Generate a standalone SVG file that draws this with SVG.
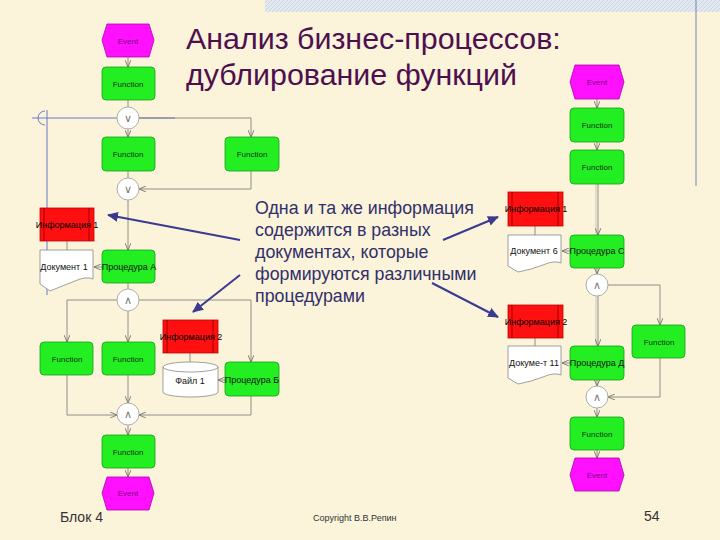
<svg xmlns="http://www.w3.org/2000/svg" width="720" height="540" viewBox="0 0 720 540">
<defs>
<marker id="ah" markerWidth="8" markerHeight="6" refX="7" refY="3" orient="auto" markerUnits="userSpaceOnUse"><path d="M0,0 L7,3 L0,6" fill="none" stroke="#666" stroke-width="0.8"/></marker>
<marker id="bh" markerWidth="12" markerHeight="10" refX="10" refY="5" orient="auto" markerUnits="userSpaceOnUse"><path d="M0,0 L11,5 L0,10 Z" fill="#3a3a90"/></marker>
<pattern id="hatch" width="4" height="4" patternUnits="userSpaceOnUse"><rect width="4" height="4" fill="#e4eaf0"/><path d="M0,4 L4,0" stroke="#c8d4e2" stroke-width="1"/></pattern>
</defs>
<style>
.ev{fill:#ff10ff;stroke:#b000b0;stroke-width:0.8}
.fn{fill:#22ee22;stroke:#18a018;stroke-width:0.8}
.inf{fill:#ff1010;stroke:#c00000;stroke-width:0.8}
.doc{fill:#ffffff;stroke:#888;stroke-width:0.8}
.op{fill:#ffffff;stroke:#999;stroke-width:0.8}
.c{fill:none;stroke:#777;stroke-width:0.8}
.ca{fill:none;stroke:#777;stroke-width:0.8;marker-end:url(#ah)}
.dbl{fill:none;stroke:#bbb;stroke-width:0.8}
.t{font-family:"Liberation Sans",Arial,sans-serif;font-size:8px;text-anchor:middle;dominant-baseline:central}
.te{fill:#7a0a7a}
.tf{fill:#153015}
.tb{fill:#000;font-size:9px}
.ts{fill:#111;font-size:9px}
.opt{font-family:"DejaVu Sans",sans-serif;font-size:11px;fill:#777;text-anchor:middle;dominant-baseline:central}
.title{font-family:"Liberation Sans",Arial,sans-serif;font-size:30.4px;fill:#4e0f4e}
.body{font-family:"Liberation Sans",Arial,sans-serif;font-size:17.8px;fill:#30306a}
.ba{fill:none;stroke:#3a3a90;stroke-width:2;marker-end:url(#bh)}
.foot{font-family:"Liberation Sans",Arial,sans-serif;fill:#333}
</style>
<rect width="720" height="540" fill="#fbf3da"/>
<rect x="265" y="0" width="455" height="12" fill="url(#hatch)"/>
<line x1="696" y1="0" x2="696" y2="186" stroke="#7383b3" stroke-width="1"/>
<g id="blue-guides">
<line x1="32" y1="118" x2="175" y2="118" stroke="#6a78c8" stroke-width="1"/>
<line x1="47" y1="110" x2="47" y2="295" stroke="#6a78c8" stroke-width="1"/>
<path d="M45,111 A7,7 0 0 0 45,125" fill="none" stroke="#6a78c8" stroke-width="1"/>
</g>
<g id="title">
<text class="title" x="186" y="49">Анализ бизнес-процессов:</text>
<text class="title" x="186" y="85">дублирование функций</text>
</g>
<g id="connectors">
<line class="ca" x1="128" y1="57" x2="128" y2="67"/>
<line class="c" x1="128" y1="100" x2="128" y2="107"/>
<line class="ca" x1="128" y1="129" x2="128" y2="137"/>
<polyline class="ca" points="139,118 251,118 251,137"/>
<line class="c" x1="128" y1="171" x2="128" y2="178"/>
<polyline class="ca" points="251,171 251,189 139,189"/>
<line class="ca" x1="128" y1="200" x2="128" y2="250"/>
<line class="c" x1="67" y1="241" x2="67" y2="250"/>
<line class="ca" x1="102" y1="267" x2="94" y2="267"/>
<line class="c" x1="128" y1="283" x2="128" y2="289"/>
<polyline class="ca" points="117,300 67,300 67,342"/>
<line class="ca" x1="128" y1="311" x2="128" y2="342"/>
<polyline class="ca" points="139,300 251,300 251,362"/>
<line class="c" x1="190" y1="353" x2="190" y2="362"/>
<line class="ca" x1="225" y1="380" x2="218" y2="380"/>
<polyline class="ca" points="67,375 67,415 117,415"/>
<line class="ca" x1="128" y1="375" x2="128" y2="403"/>
<polyline class="ca" points="251,396 251,415 139,415"/>
<line class="ca" x1="128" y1="425" x2="128" y2="435"/>
<line class="ca" x1="128" y1="468" x2="128" y2="477"/>
<line class="ca" x1="597" y1="99" x2="597" y2="108"/>
<line class="ca" x1="597" y1="142" x2="597" y2="150"/>
<line class="dbl" x1="596" y1="184" x2="596" y2="235"/>
<line class="ca" x1="598" y1="184" x2="598" y2="235"/>
<line class="c" x1="535" y1="226" x2="535" y2="235"/>
<line class="ca" x1="570" y1="251" x2="562" y2="251"/>
<line class="ca" x1="597" y1="268" x2="597" y2="274"/>
<polyline class="ca" points="608,285 660,285 660,325"/>
<line class="dbl" x1="596" y1="296" x2="596" y2="346"/>
<line class="ca" x1="598" y1="296" x2="598" y2="346"/>
<line class="c" x1="535" y1="338" x2="535" y2="346"/>
<line class="ca" x1="570" y1="363" x2="562" y2="363"/>
<line class="ca" x1="597" y1="380" x2="597" y2="386"/>
<polyline class="ca" points="660,358 660,397 608,397"/>
<line class="ca" x1="597" y1="408" x2="597" y2="417"/>
<line class="ca" x1="597" y1="450" x2="597" y2="458"/>
<line class="ba" x1="240" y1="240" x2="108" y2="215"/>
<line class="ba" x1="240" y1="275" x2="193" y2="312"/>
<line class="ba" x1="443" y1="240" x2="498" y2="217"/>
<line class="ba" x1="432" y1="283" x2="498" y2="317"/>
</g>
<g id="L-event1"><polygon class="ev" points="107,24 149,24 154,40 149,57 107,57 102,40"/><text class="t te" x="128" y="41">Event</text></g>
<g id="L-func1"><rect class="fn" x="102" y="67" width="53" height="33" rx="4"/><text class="t tf" x="128" y="84">Function</text></g>
<g id="L-xor1"><circle class="op" cx="128" cy="118" r="11"/><text class="opt" x="128" y="118">∨</text></g>
<g id="L-func2"><rect class="fn" x="102" y="137" width="53" height="34" rx="4"/><text class="t tf" x="128" y="154">Function</text></g>
<g id="L-func3"><rect class="fn" x="225" y="137" width="54" height="34" rx="4"/><text class="t tf" x="252" y="154">Function</text></g>
<g id="L-xor2"><circle class="op" cx="128" cy="189" r="11"/><text class="opt" x="128" y="189">∨</text></g>
<g id="L-info1"><rect class="inf" x="40" y="208" width="54" height="33"/><line x1="44" y1="208" x2="44" y2="241" stroke="#a00000"/><line x1="89" y1="208" x2="89" y2="241" stroke="#a00000"/><text class="t tb" x="67" y="225">Информация 1</text></g>
<g id="L-doc1"><path class="doc" d="M40,250 H93 V279 Q86,276 75,281 Q62,286 50,291 L40,284 Z"/><text class="t ts" x="64" y="267">Документ 1</text></g>
<g id="L-procA"><rect class="fn" x="102" y="250" width="53" height="33" rx="4"/><text class="t ts" x="129" y="267">Процедура А</text></g>
<g id="L-and1"><circle class="op" cx="128" cy="300" r="11"/><text class="opt" x="128" y="300">∧</text></g>
<g id="L-func4"><rect class="fn" x="40" y="342" width="53" height="33" rx="4"/><text class="t tf" x="67" y="359">Function</text></g>
<g id="L-func5"><rect class="fn" x="102" y="342" width="53" height="33" rx="4"/><text class="t tf" x="128" y="359">Function</text></g>
<g id="L-info2"><rect class="inf" x="163" y="320" width="55" height="33"/><line x1="167" y1="320" x2="167" y2="353" stroke="#a00000"/><line x1="213" y1="320" x2="213" y2="353" stroke="#a00000"/><text class="t tb" x="191" y="337">Информация 2</text></g>
<g id="L-file1"><path class="doc" d="M163,367 A27.5,5 0 0 1 218,367 V392 A27.5,5 0 0 1 163,392 Z"/><path d="M163,367 A27.5,5 0 0 0 218,367" fill="none" stroke="#888" stroke-width="0.8"/><text class="t ts" x="190" y="381">Файл 1</text></g>
<g id="L-procB"><rect class="fn" x="225" y="362" width="54" height="34" rx="4"/><text class="t ts" x="252" y="380">Процедура Б</text></g>
<g id="L-and2"><circle class="op" cx="128" cy="414" r="11"/><text class="opt" x="128" y="414">∧</text></g>
<g id="L-func6"><rect class="fn" x="102" y="435" width="53" height="33" rx="4"/><text class="t tf" x="128" y="452">Function</text></g>
<g id="L-event2"><polygon class="ev" points="107,477 149,477 154,493 149,510 107,510 102,493"/><text class="t te" x="128" y="493">Event</text></g>
<g id="R-event1"><polygon class="ev" points="575,65 619,65 624,82 619,99 575,99 570,82"/><text class="t te" x="597" y="82">Event</text></g>
<g id="R-func1"><rect class="fn" x="570" y="108" width="54" height="34" rx="4"/><text class="t tf" x="597" y="125">Function</text></g>
<g id="R-func2"><rect class="fn" x="570" y="150" width="54" height="34" rx="4"/><text class="t tf" x="597" y="167">Function</text></g>
<g id="R-info1"><rect class="inf" x="508" y="192" width="55" height="34"/><line x1="512" y1="192" x2="512" y2="226" stroke="#a00000"/><line x1="558" y1="192" x2="558" y2="226" stroke="#a00000"/><text class="t tb" x="536" y="209">Информация 1</text></g>
<g id="R-doc6"><path class="doc" d="M508,235 H561 V263 Q554,260 543,265 Q530,270 518,272 L508,266 Z"/><text class="t ts" x="534" y="251">Документ 6</text></g>
<g id="R-procC"><rect class="fn" x="570" y="235" width="54" height="33" rx="4"/><text class="t ts" x="597" y="251">Процедура С</text></g>
<g id="R-and1"><circle class="op" cx="597" cy="285" r="11"/><text class="opt" x="597" y="285">∧</text></g>
<g id="R-func3"><rect class="fn" x="632" y="325" width="53" height="33" rx="4"/><text class="t tf" x="659" y="342">Function</text></g>
<g id="R-info2"><rect class="inf" x="508" y="305" width="55" height="33"/><line x1="512" y1="305" x2="512" y2="338" stroke="#a00000"/><line x1="558" y1="305" x2="558" y2="338" stroke="#a00000"/><text class="t tb" x="536" y="322">Информация 2</text></g>
<g id="R-doc11"><path class="doc" d="M508,346 H561 V375 Q554,372 543,377 Q530,382 518,384 L508,378 Z"/><text class="t ts" x="534" y="363">Докуме-т 11</text></g>
<g id="R-procD"><rect class="fn" x="570" y="346" width="54" height="34" rx="4"/><text class="t ts" x="597" y="363">Процедура Д</text></g>
<g id="R-and2"><circle class="op" cx="597" cy="397" r="11"/><text class="opt" x="597" y="397">∧</text></g>
<g id="R-func4"><rect class="fn" x="570" y="417" width="54" height="33" rx="4"/><text class="t tf" x="597" y="434">Function</text></g>
<g id="R-event2"><polygon class="ev" points="575,458 619,458 624,475 619,491 575,491 570,475"/><text class="t te" x="597" y="475">Event</text></g>
<g id="note">
<text class="body" x="255" y="214">Одна и та же информация</text>
<text class="body" x="255" y="236">содержится в разных</text>
<text class="body" x="255" y="258">документах, которые</text>
<text class="body" x="255" y="280">формируются различными</text>
<text class="body" x="255" y="302">процедурами</text>
</g>
<g id="footer">
<text class="foot" x="60" y="522" font-size="14">Блок 4</text>
<text class="foot" x="313" y="521" font-size="9">Copyright В.В.Репин</text>
<text class="foot" x="644" y="521" font-size="14">54</text>
</g>
</svg>
